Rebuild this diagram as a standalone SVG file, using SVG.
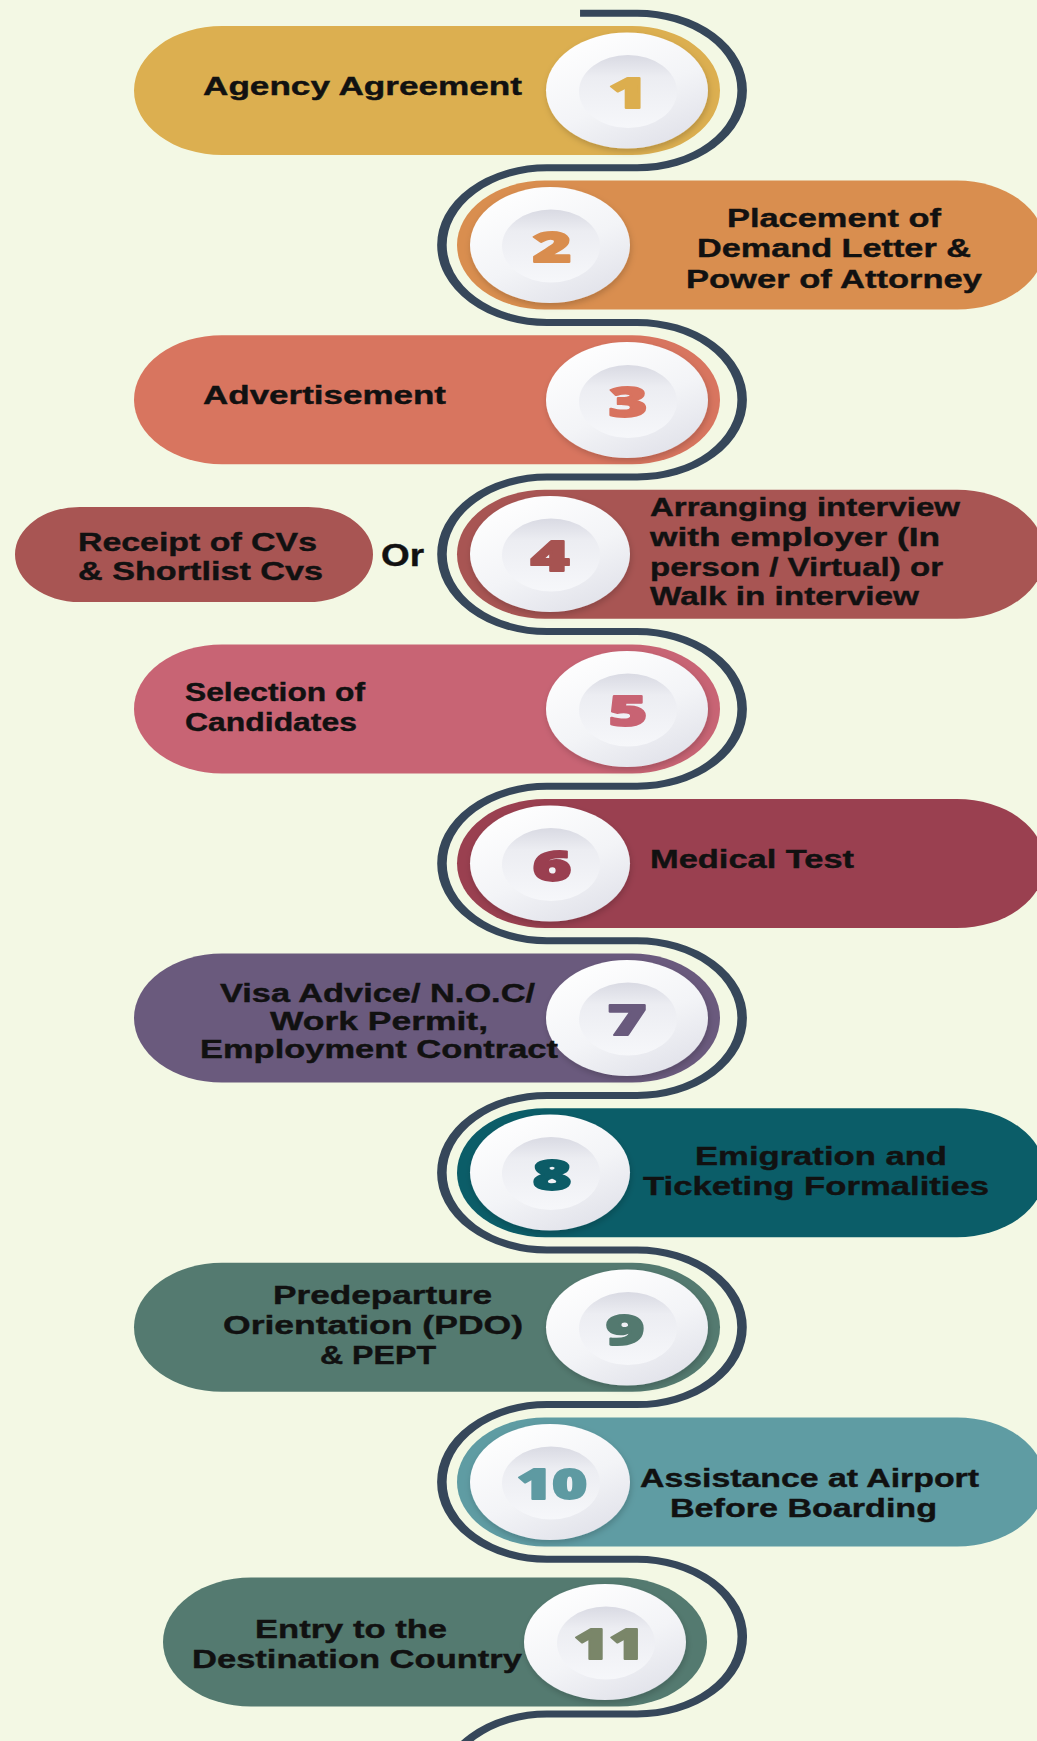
<svg xmlns="http://www.w3.org/2000/svg" width="1037" height="1741" viewBox="0 0 1037 1741">
<style>
.bg{fill:#F3F8E4}
.lbl{font-family:"Liberation Sans","Open Sans",Arial,sans-serif;font-weight:700;font-size:25px;fill:#111111;stroke:#111111;stroke-width:0.4}
.or{font-family:"Liberation Sans","Open Sans",Arial,sans-serif;font-weight:700;font-size:31px;fill:#111111;stroke:#111111;stroke-width:0.4}
.num{font-family:"Open Sans","Liberation Sans",sans-serif;font-weight:800;font-size:43px;text-anchor:middle;stroke-width:1.8;stroke-linejoin:round}
.outer{fill:url(#gOuter);filter:url(#sh)}
.inner{fill:url(#gInner)}
.line{fill:none;stroke:#36475A;stroke-width:7}
</style>
<defs>
<linearGradient id="gOuter" x1="0.2" y1="0" x2="0.8" y2="1">
<stop offset="0" stop-color="#FFFFFF"/>
<stop offset="0.55" stop-color="#F3F4F7"/>
<stop offset="1" stop-color="#E0E1E9"/>
</linearGradient>
<linearGradient id="gInner" x1="0" y1="0" x2="0" y2="1">
<stop offset="0" stop-color="#D9DAE3"/>
<stop offset="0.3" stop-color="#ECEDF2"/>
<stop offset="1" stop-color="#F6F7FA"/>
</linearGradient>
<filter id="sh" x="-20%" y="-20%" width="150%" height="150%">
<feDropShadow dx="1" dy="3" stdDeviation="3" flood-color="#000000" flood-opacity="0.18"/>
</filter>
</defs>
<rect class="bg" x="0" y="0" width="1037" height="1741"/>

<g id="connectors">
<path class="line" transform="scale(1.36 1)" d="M 426.5 13.2 H 468.4 A 77.3 77.3 0 0 1 468.4 167.8 H 402.2 A 77.3 77.3 0 0 0 402.2 322.4 H 468.4 A 77.3 77.3 0 0 1 468.4 477 H 402.2 A 77.3 77.3 0 0 0 402.2 631.6 H 468.4 A 77.3 77.3 0 0 1 468.4 786.2 H 402.2 A 77.3 77.3 0 0 0 402.2 940.8 H 468.4 A 77.3 77.3 0 0 1 468.4 1095.4 H 402.2 A 77.3 77.3 0 0 0 402.2 1250 H 468.4 A 77.3 77.3 0 0 1 468.4 1404.6 H 402.2 A 77.3 77.3 0 0 0 402.2 1559.2 H 468.4 A 77.4 77.4 0 0 1 468.4 1714 H 402.2 A 77.3 77.3 0 0 0 402.2 1868.6"/>
</g>

<g id="step1">
<path fill="#DCAF50" d="M 222 26 H 632 A 88 64.5 0 0 1 632 155 H 222 A 88 64.5 0 0 1 222 26 Z"/>
<ellipse class="outer" cx="627" cy="90.5" rx="81" ry="58"/>
<ellipse class="inner" cx="628" cy="91.5" rx="49" ry="36.5"/>
<text class="num" fill="#DCAE4E" stroke="#DCAE4E" transform="translate(628 107.5) scale(1.55 1)">1</text>
<text class="lbl" x="203" y="94.5" textLength="319" lengthAdjust="spacingAndGlyphs">Agency Agreement</text>
</g>

<g id="step2">
<path fill="#D98E4F" d="M 545 180.6 H 957 A 88 64.5 0 0 1 957 309.6 H 545 A 88 64.5 0 0 1 545 180.6 Z"/>
<ellipse class="outer" cx="550" cy="245" rx="80" ry="58"/>
<ellipse class="inner" cx="551" cy="246" rx="49" ry="36.5"/>
<text class="num" fill="#D98D4E" stroke="#D98D4E" transform="translate(552 262) scale(1.55 1)">2</text>
<text class="lbl" x="727" y="226.5" textLength="214" lengthAdjust="spacingAndGlyphs">Placement of</text>
<text class="lbl" x="697" y="257" textLength="274" lengthAdjust="spacingAndGlyphs">Demand Letter &amp;</text>
<text class="lbl" x="686" y="287.5" textLength="296" lengthAdjust="spacingAndGlyphs">Power of Attorney</text>
</g>

<g id="step3">
<path fill="#D8755F" d="M 222 335.2 H 632 A 88 64.5 0 0 1 632 464.2 H 222 A 88 64.5 0 0 1 222 335.2 Z"/>
<ellipse class="outer" cx="627" cy="400" rx="81" ry="58"/>
<ellipse class="inner" cx="628" cy="401.5" rx="49" ry="36.5"/>
<text class="num" fill="#D8735F" stroke="#D8735F" transform="translate(628 417) scale(1.55 1)">3</text>
<text class="lbl" x="203" y="404" textLength="243" lengthAdjust="spacingAndGlyphs">Advertisement</text>
</g>

<g id="step4">
<path fill="#A85553" d="M 545 489.8 H 957 A 88 64.5 0 0 1 957 618.8 H 545 A 88 64.5 0 0 1 545 489.8 Z"/>
<ellipse class="outer" cx="550" cy="554" rx="80" ry="58"/>
<ellipse class="inner" cx="551" cy="555" rx="49" ry="36.5"/>
<text class="num" fill="#A65351" stroke="#A65351" transform="translate(550 571) scale(1.55 1)">4</text>
<text class="lbl" x="650" y="516" textLength="310" lengthAdjust="spacingAndGlyphs">Arranging interview</text>
<text class="lbl" x="650" y="546" textLength="290" lengthAdjust="spacingAndGlyphs">with employer (In</text>
<text class="lbl" x="650" y="575.5" textLength="293" lengthAdjust="spacingAndGlyphs">person / Virtual) or</text>
<text class="lbl" x="650" y="605" textLength="269" lengthAdjust="spacingAndGlyphs">Walk in interview</text>
</g>

<g id="step4-alt">
<path fill="#A85553" d="M 79.6 507 H 308.4 A 64.6 47.5 0 0 1 308.4 602 H 79.6 A 64.6 47.5 0 0 1 79.6 507 Z"/>
<text class="lbl" x="78" y="551" textLength="239" lengthAdjust="spacingAndGlyphs">Receipt of CVs</text>
<text class="lbl" x="78" y="580" textLength="245" lengthAdjust="spacingAndGlyphs">&amp;  Shortlist Cvs</text>
</g>

<g id="or-label">
<text class="or" x="381" y="566" textLength="43" lengthAdjust="spacingAndGlyphs">Or</text>
</g>

<g id="step5">
<path fill="#C86474" d="M 222 644.4 H 632 A 88 64.5 0 0 1 632 773.4 H 222 A 88 64.5 0 0 1 222 644.4 Z"/>
<ellipse class="outer" cx="627" cy="709" rx="81" ry="58"/>
<ellipse class="inner" cx="628" cy="710" rx="49" ry="36.5"/>
<text class="num" fill="#C86373" stroke="#C86373" transform="translate(628 726) scale(1.55 1)">5</text>
<text class="lbl" x="185" y="701" textLength="180" lengthAdjust="spacingAndGlyphs">Selection of</text>
<text class="lbl" x="185" y="730.5" textLength="172" lengthAdjust="spacingAndGlyphs">Candidates</text>
</g>

<g id="step6">
<path fill="#9A4050" d="M 545 799 H 957 A 88 64.5 0 0 1 957 928 H 545 A 88 64.5 0 0 1 545 799 Z"/>
<ellipse class="outer" cx="550" cy="863.5" rx="80" ry="58"/>
<ellipse class="inner" cx="551" cy="864.5" rx="49" ry="36.5"/>
<text class="num" fill="#9A3F50" stroke="#9A3F50" transform="translate(552 880.5) scale(1.55 1)">6</text>
<text class="lbl" x="650" y="868" textLength="204" lengthAdjust="spacingAndGlyphs">Medical Test</text>
</g>

<g id="step7">
<path fill="#6A5A7D" d="M 222 953.6 H 632 A 88 64.5 0 0 1 632 1082.6 H 222 A 88 64.5 0 0 1 222 953.6 Z"/>
<ellipse class="outer" cx="627" cy="1018" rx="81" ry="58"/>
<ellipse class="inner" cx="628" cy="1019" rx="49" ry="36.5"/>
<text class="num" fill="#695A7D" stroke="#695A7D" transform="translate(627 1035) scale(1.55 1)">7</text>
<text class="lbl" x="220" y="1001.5" textLength="315" lengthAdjust="spacingAndGlyphs">Visa Advice/ N.O.C/</text>
<text class="lbl" x="270" y="1030" textLength="218" lengthAdjust="spacingAndGlyphs">Work Permit,</text>
<text class="lbl" x="200" y="1058" textLength="358" lengthAdjust="spacingAndGlyphs">Employment Contract</text>
</g>

<g id="step8">
<path fill="#0B5D68" d="M 545 1108.2 H 957 A 88 64.5 0 0 1 957 1237.2 H 545 A 88 64.5 0 0 1 545 1108.2 Z"/>
<ellipse class="outer" cx="550" cy="1172.5" rx="80" ry="58"/>
<ellipse class="inner" cx="551" cy="1173.5" rx="49" ry="36.5"/>
<text class="num" fill="#0C5C67" stroke="#0C5C67" transform="translate(552 1189.5) scale(1.55 1)">8</text>
<text class="lbl" x="695" y="1165" textLength="252" lengthAdjust="spacingAndGlyphs">Emigration and</text>
<text class="lbl" x="643" y="1195" textLength="346" lengthAdjust="spacingAndGlyphs">Ticketing Formalities</text>
</g>

<g id="step9">
<path fill="#547A70" d="M 222 1262.8 H 632 A 88 64.5 0 0 1 632 1391.8 H 222 A 88 64.5 0 0 1 222 1262.8 Z"/>
<ellipse class="outer" cx="627" cy="1327.5" rx="81" ry="58"/>
<ellipse class="inner" cx="628" cy="1328.5" rx="49" ry="36.5"/>
<text class="num" fill="#53796F" stroke="#53796F" transform="translate(625 1344.5) scale(1.55 1)">9</text>
<text class="lbl" x="273" y="1303.5" textLength="219" lengthAdjust="spacingAndGlyphs">Predeparture</text>
<text class="lbl" x="223" y="1334" textLength="300" lengthAdjust="spacingAndGlyphs">Orientation  (PDO)</text>
<text class="lbl" x="320" y="1363.5" textLength="116" lengthAdjust="spacingAndGlyphs">&amp; PEPT</text>
</g>

<g id="step10">
<path fill="#5F9CA3" d="M 545 1417.4 H 957 A 88 64.5 0 0 1 957 1546.4 H 545 A 88 64.5 0 0 1 545 1417.4 Z"/>
<ellipse class="outer" cx="550" cy="1482" rx="80" ry="58"/>
<ellipse class="inner" cx="551" cy="1483" rx="49" ry="36.5"/>
<text class="num" fill="#5E9AA2" stroke="#5E9AA2" transform="translate(552 1499) scale(1.4 1)">10</text>
<text class="lbl" x="640" y="1487" textLength="339" lengthAdjust="spacingAndGlyphs">Assistance at Airport</text>
<text class="lbl" x="670" y="1517" textLength="267" lengthAdjust="spacingAndGlyphs">Before Boarding</text>
</g>

<g id="step11">
<path fill="#547A70" d="M 251 1577.5 H 619 A 88 64.5 0 0 1 619 1706.5 H 251 A 88 64.5 0 0 1 251 1577.5 Z"/>
<ellipse class="outer" cx="605" cy="1642" rx="81" ry="58"/>
<ellipse class="inner" cx="606" cy="1643" rx="49" ry="36.5"/>
<text class="num" fill="#7A8669" stroke="#7A8669" transform="translate(609 1659) scale(1.4 1)">11</text>
<text class="lbl" x="255" y="1637.5" textLength="192" lengthAdjust="spacingAndGlyphs">Entry to the</text>
<text class="lbl" x="192" y="1667.5" textLength="330" lengthAdjust="spacingAndGlyphs">Destination Country</text>
</g>
</svg>
